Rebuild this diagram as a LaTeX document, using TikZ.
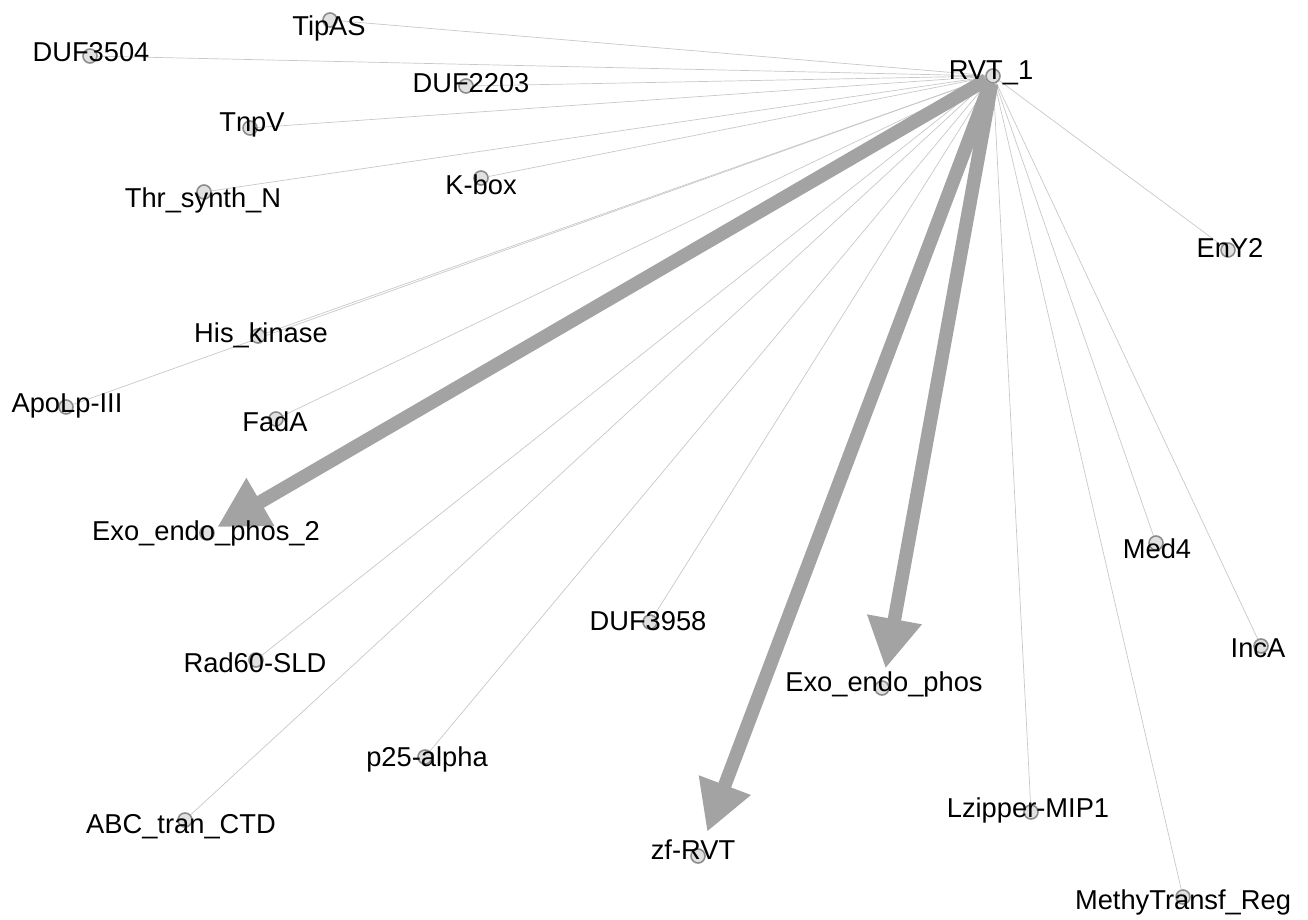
\documentclass[tikz,border=0pt]{standalone}
\usepackage{fontspec}
\setmainfont{Liberation Sans}
\usetikzlibrary{arrows.meta}
\definecolor{thin}{RGB}{200,200,200}
\definecolor{thick}{RGB}{163,163,163}
\definecolor{ring}{RGB}{140,140,140}
\definecolor{dotfill}{RGB}{225,225,225}
\pgfdeclarelayer{bg}
\pgfsetlayers{bg,main}
\begin{document}
\begin{tikzpicture}[x=1pt,y=-1pt,
  dot/.style={circle,minimum size=14pt,inner sep=0pt,draw=ring,line width=1.6pt,fill=dotfill},
  lab/.style={inner sep=0pt,text height=19.8pt,text depth=0pt,font=\fontsize{27.3}{30}\selectfont},
  edge/.style={draw=thin,line width=0.7pt},
  big/.style={draw=thick,line width=13.5pt,-{Triangle[length=50pt,width=52pt]}}]
\useasboundingbox (0,0) rectangle (1308,920);
% node markers
\node[dot] (rvt) at (993,76) {};
\node[dot] (tipas) at (330,20) {};
\node[dot] (duf3504) at (90,56) {};
\node[dot] (duf2203) at (466,86) {};
\node[dot] (tnpv) at (250,128) {};
\node[dot] (kbox) at (481,178) {};
\node[dot] (thr) at (204,192) {};
\node[dot] (eny2) at (1228,250) {};
\node[dot] (his) at (258,336) {};
\node[dot] (apolp) at (66,407) {};
\node[dot] (fada) at (276,419) {};
\node[dot] (exo2) at (207,533) {};
\node[dot] (med4) at (1156,543) {};
\node[dot] (duf3958) at (650,622) {};
\node[dot] (inca) at (1261,646) {};
\node[dot] (rad60) at (256,660) {};
\node[dot] (exo) at (882,688) {};
\node[dot] (p25) at (425,757) {};
\node[dot] (abc) at (185,820) {};
\node[dot] (lzip) at (1031,812) {};
\node[dot] (zf) at (698,856) {};
\node[dot] (methy) at (1183,897) {};
% connectors
\begin{pgfonlayer}{bg}
\foreach \t in {tipas,duf3504,duf2203,tnpv,kbox,thr,eny2,his,apolp,fada,med4,duf3958,inca,rad60,p25,abc,lzip,methy}
  \draw[edge] (rvt) -- (\t);
\draw[big,shorten >=4pt] (rvt) -- (exo2);
\draw[big,shorten >=12pt] (rvt) -- (exo);
\draw[big,shorten >=18pt] (rvt) -- (zf);
\end{pgfonlayer}
% labels
\node[lab] at (991,70) {RVT\_1};
\node[lab] at (329,26) {TipAS};
\node[lab] at (91,52) {DUF3504};
\node[lab] at (471,83) {DUF2203};
\node[lab] at (252,122) {TnpV};
\node[lab] at (481,185) {K-box};
\node[lab] at (203,198) {Thr\_synth\_N};
\node[lab] at (1230,248) {EnY2};
\node[lab] at (261,333) {His\_kinase};
\node[lab] at (67,403) {ApoLp-III};
\node[lab] at (275,422) {FadA};
\node[lab] at (206,531) {Exo\_endo\_phos\_2};
\node[lab] at (1157,549) {Med4};
\node[lab] at (648,621) {DUF3958};
\node[lab] at (1258,648) {IncA};
\node[lab] at (255,663) {Rad60-SLD};
\node[lab] at (884,682) {Exo\_endo\_phos};
\node[lab] at (427,757) {p25-alpha};
\node[lab] at (181,824) {ABC\_tran\_CTD};
\node[lab] at (1028,808) {Lzipper-MIP1};
\node[lab] at (693,850) {zf-RVT};
\node[lab] at (1183,900) {MethyTransf\_Reg};
\end{tikzpicture}
\end{document}
